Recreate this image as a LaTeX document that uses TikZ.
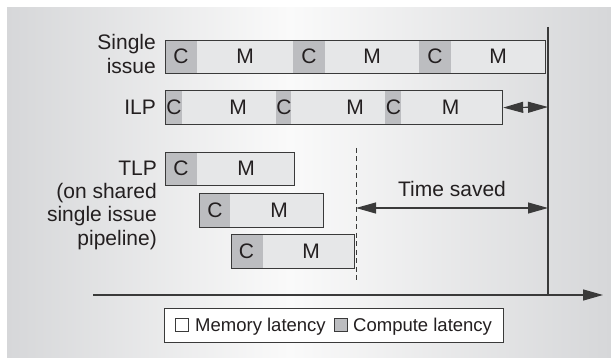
\documentclass[tikz,border=0pt]{standalone}
\usepackage{fontspec}
\setmainfont{Liberation Sans}
\usetikzlibrary{arrows.meta}
\definecolor{bgedge}{HTML}{D6D7D9}
\definecolor{bgmid}{HTML}{FAFAFA}
\definecolor{barfill}{HTML}{E6E7E8}
\definecolor{cfill}{HTML}{BCBDC0}
\definecolor{ink}{HTML}{3A3A3A}
\definecolor{txt}{HTML}{231F20}
\tikzset{bigtip/.tip={Triangle[length=20pt,width=11pt]}}
\begin{document}
\begin{tikzpicture}[x=1pt,y=-1pt,
  lbl/.style={inner sep=0pt, text=txt, font=\fontsize{21}{23.3}\selectfont},
  segtext/.style={inner sep=0pt, text=txt, font=\fontsize{21}{23}\selectfont},
  legtext/.style={inner sep=0pt, text=txt, font=\fontsize{18.5}{21}\selectfont, anchor=base west},
  barbox/.style={draw=ink, line width=1.2pt, inner sep=0pt, anchor=north west},
  cblock/.style={fill=cfill},
  mblock/.style={fill=barfill},
  arr/.style={draw=ink, line width=1.1pt},
  legsq/.style={draw=ink, line width=0.8pt, minimum size=13pt, inner sep=0pt, anchor=north west}
]
\useasboundingbox (0,0) rectangle (611,358);
\fill[white] (0,0) rectangle (611,358);
\shade[left color=bgedge, right color=bgmid] (7,8) rectangle (290,358);
\shade[left color=bgmid, right color=bgedge] (289.5,8) rectangle (611,358);

% ---- Single issue
\fill[mblock] (165,40) rectangle (545,73);
\fill[cblock] (165,40) rectangle (197,73);
\fill[cblock] (293,40) rectangle (325,73);
\fill[cblock] (419,40) rectangle (451,73);
\node[barbox, minimum width=380pt, minimum height=33pt] (single) at (165,40) {};
\node[segtext] (sc1) at (181,56.5) {C};
\node[segtext] (sm1) at (245,56.5) {M};
\node[segtext] (sc2) at (309,56.5) {C};
\node[segtext] (sm2) at (372,56.5) {M};
\node[segtext] (sc3) at (435,56.5) {C};
\node[segtext] (sm3) at (498,56.5) {M};
\node[lbl, align=right, anchor=north east] (singlelbl) at (156,34.5) {Single\\issue};

% ---- ILP
\fill[mblock] (165,90) rectangle (502,124);
\fill[cblock] (165,90) rectangle (182,124);
\fill[cblock] (276,90) rectangle (291,124);
\fill[cblock] (385,90) rectangle (401,124);
\node[barbox, minimum width=337pt, minimum height=34pt] (ilp) at (165,90) {};
\node[segtext] (ic1) at (174,107) {C};
\node[segtext] (im1) at (238,107) {M};
\node[segtext] (ic2) at (284,107) {C};
\node[segtext] (im2) at (355,107) {M};
\node[segtext] (ic3) at (393.5,107) {C};
\node[segtext] (im3) at (450.5,107) {M};
\node[lbl, anchor=east] (ilplbl) at (156,107) {ILP};

% ---- TLP
\fill[mblock] (165,152) rectangle (294,185);
\fill[cblock] (165,152) rectangle (197,185);
\node[barbox, minimum width=129pt, minimum height=33pt] (tlpa) at (165,152) {};
\node[segtext] (tac) at (181,168.5) {C};
\node[segtext] (tam) at (246,168.5) {M};

\fill[mblock] (199,193) rectangle (323,227);
\fill[cblock] (199,193) rectangle (230,227);
\node[barbox, minimum width=124pt, minimum height=34pt] (tlpb) at (199,193) {};
\node[segtext] (tbc) at (215,210) {C};
\node[segtext] (tbm) at (279,210) {M};

\fill[mblock] (231,234) rectangle (354,268);
\fill[cblock] (231,234) rectangle (263,268);
\node[barbox, minimum width=123pt, minimum height=34pt] (tlpc) at (231,234) {};
\node[segtext] (tcc) at (246.5,251) {C};
\node[segtext] (tcm) at (311,251) {M};

\node[lbl, align=right, anchor=north east] (tlplbl) at (157,160.5)
  {TLP\\(on shared\\single issue\\pipeline)};

% ---- time line and markers
\coordinate (vtop) at (548,27);
\coordinate (vbot) at (548,295);
\coordinate (axstart) at (93,295);
\coordinate (axend) at (603,295);
\coordinate (dtop) at (356,148);
\coordinate (dbot) at (356,280);
\coordinate (tsl) at (356,208);
\coordinate (tsr) at (548,208);
\coordinate (ilpr) at (548,107);

\draw[ink, line width=1.1pt] (vtop) -- (vbot);
\draw[arr, line width=1.3pt, -{bigtip}] (axstart) -- (axend);
\draw[ink, line width=0.9pt, dash pattern=on 5pt off 3.5pt] (dtop) -- (dbot);
\draw[arr, {bigtip}-{bigtip}] (tsl) -- (tsr);
\draw[arr, {bigtip}-{bigtip}] (ilp.east) -- (ilpr);
\node[lbl] (tslbl) at (452,189) {Time saved};

% ---- legend
\node[draw=ink, fill=white, line width=1pt, minimum width=339pt, minimum height=34pt,
      inner sep=0pt, anchor=north west] (legend) at (164,308) {};
\node[legsq, fill=white] (memsq) at (175,318.5) {};
\node[legtext] (memtxt) at (195,331.5) {Memory latency};
\node[legsq, fill=cfill] (cmpsq) at (334,318.5) {};
\node[legtext] (cmptxt) at (353,331.5) {Compute latency};
\end{tikzpicture}
\end{document}
